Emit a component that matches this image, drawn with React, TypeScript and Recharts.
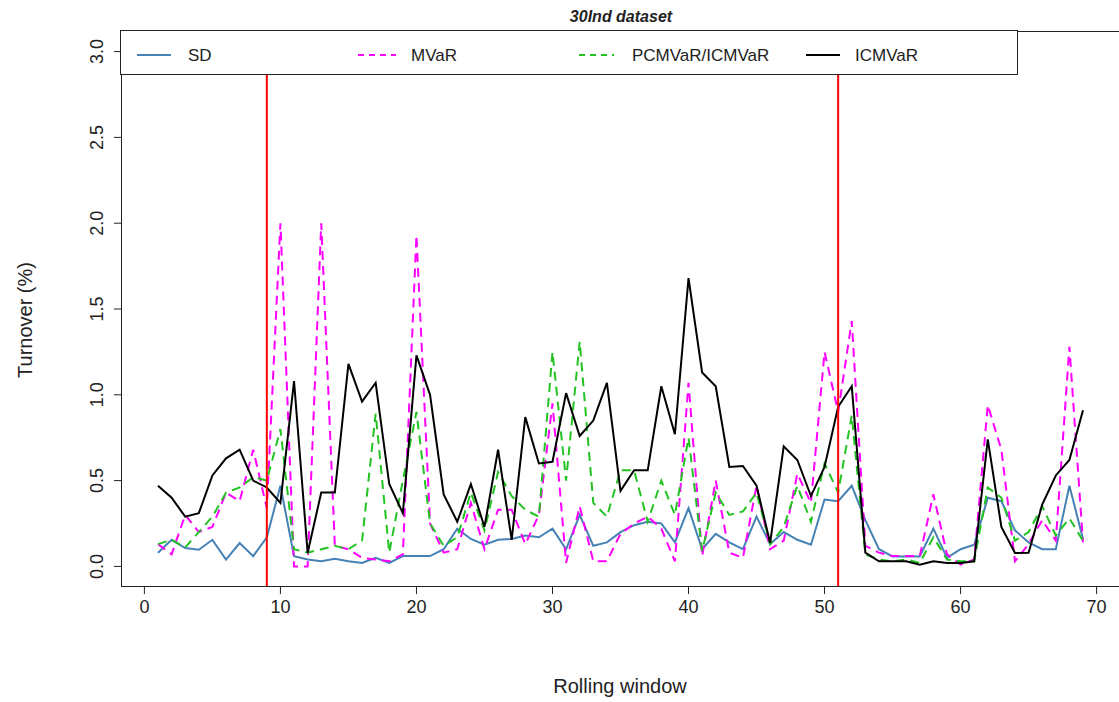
import { LineChart, Line, XAxis, YAxis, ReferenceLine } from "recharts";

// rolling window index, 1..69
const windows = [
  1, 2, 3, 4, 5, 6, 7, 8, 9, 10, 11, 12, 13, 14, 15, 16, 17, 18, 19, 20, 21, 22, 23,
  24, 25, 26, 27, 28, 29, 30, 31, 32, 33, 34, 35, 36, 37, 38, 39, 40, 41, 42, 43, 44,
  45, 46, 47, 48, 49, 50, 51, 52, 53, 54, 55, 56, 57, 58, 59, 60, 61, 62, 63, 64, 65,
  66, 67, 68, 69,
];

const sd = [
  0.08, 0.155, 0.107, 0.097, 0.155, 0.04, 0.136, 0.06, 0.17, 0.47, 0.06, 0.04, 0.03,
  0.044, 0.03, 0.02, 0.05, 0.02, 0.06, 0.06, 0.06, 0.1, 0.22, 0.16, 0.126, 0.155, 0.16,
  0.18, 0.17, 0.22, 0.1, 0.3, 0.12, 0.14, 0.2, 0.24, 0.26, 0.25, 0.14, 0.34, 0.1, 0.19,
  0.14, 0.1, 0.29, 0.13, 0.2, 0.155, 0.126, 0.39, 0.38, 0.47, 0.27, 0.1, 0.058, 0.058,
  0.058, 0.22, 0.05, 0.1, 0.126, 0.4, 0.38, 0.21, 0.14, 0.1, 0.1, 0.47, 0.16,
];

const mvar = [
  0.13, 0.07, 0.3, 0.2, 0.23, 0.43, 0.38, 0.68, 0.34, 2.0, 0.0, 0.0, 2.0, 0.12, 0.1,
  0.05, 0.04, 0.03, 0.07, 1.93, 0.25, 0.08, 0.1, 0.37, 0.1, 0.33, 0.33, 0.13, 0.3, 0.95,
  0.02, 0.35, 0.03, 0.03, 0.19, 0.25, 0.29, 0.22, 0.03, 1.07, 0.06, 0.5, 0.08, 0.05,
  0.47, 0.1, 0.15, 0.54, 0.37, 1.25, 0.9, 1.43, 0.12, 0.08, 0.06, 0.06, 0.06, 0.42,
  0.07, 0.01, 0.04, 0.94, 0.68, 0.03, 0.13, 0.27, 0.15, 1.28, 0.14,
];

const pcmvar = [
  0.13, 0.155, 0.11, 0.2, 0.29, 0.43, 0.46, 0.52, 0.5, 0.8, 0.1, 0.08, 0.1, 0.12, 0.1,
  0.15, 0.89, 0.08, 0.5, 0.9, 0.25, 0.12, 0.17, 0.43, 0.21, 0.55, 0.41, 0.33, 0.29, 1.25,
  0.5, 1.31, 0.37, 0.29, 0.56, 0.56, 0.26, 0.5, 0.3, 0.75, 0.09, 0.43, 0.3, 0.32, 0.43,
  0.13, 0.23, 0.47, 0.26, 0.6, 0.43, 0.88, 0.07, 0.04, 0.03, 0.04, 0.02, 0.17, 0.04,
  0.03, 0.03, 0.46, 0.4, 0.15, 0.2, 0.35, 0.18, 0.28, 0.15,
];

const icmvar = [
  0.47, 0.4, 0.29, 0.31, 0.53, 0.63, 0.68, 0.5, 0.46, 0.37, 1.08, 0.08, 0.43, 0.43,
  1.18, 0.96, 1.07, 0.48, 0.31, 1.23, 1.0, 0.42, 0.26, 0.48, 0.23, 0.68, 0.155, 0.87,
  0.6, 0.61, 1.01, 0.76, 0.85, 1.07, 0.44, 0.56, 0.56, 1.05, 0.77, 1.68, 1.13, 1.05,
  0.58, 0.585, 0.47, 0.137, 0.7, 0.62, 0.41, 0.58, 0.93, 1.05, 0.08, 0.03, 0.03, 0.03,
  0.01, 0.03, 0.02, 0.02, 0.03, 0.74, 0.23, 0.078, 0.08, 0.36, 0.53, 0.62, 0.91,
];

const xTicks = [0, 10, 20, 30, 40, 50, 60, 70];
const yTicks = [0, 0.5, 1, 1.5, 2, 2.5, 3];
const breakWindows = [9, 51];

const FONT = '"Liberation Sans", Arial, Helvetica, sans-serif';
const INK = "#222";

const data = windows.map((w, i) => ({
  w,
  sd: sd[i],
  mvar: mvar[i],
  pcmvar: pcmvar[i],
  icmvar: icmvar[i],
}));

const series = [
  { key: "sd", label: "SD", color: "#4682B4", dash: undefined as string | undefined },
  { key: "mvar", label: "MVaR", color: "#FF00FF", dash: "9 6" },
  { key: "pcmvar", label: "PCMVaR/ICMVaR", color: "#22C322", dash: "9 6" },
  { key: "icmvar", label: "ICMVaR", color: "#000000", dash: undefined },
];

// legend positions (line start, line end, text start)
const legendPos = [
  [137, 171, 188],
  [358, 396, 411],
  [579, 614, 632],
  [806, 840, 855],
];

function YTick({ y, payload }: any) {
  return (
    <text
      x={103}
      y={y}
      transform={`rotate(-90, 103, ${y})`}
      textAnchor="middle"
      fontSize={18}
      fontFamily={FONT}
      fill={INK}
    >
      {Number(payload.value).toFixed(1)}
    </text>
  );
}

export default function App() {
  return (
    <div
      style={{
        position: "absolute",
        left: 0,
        top: 0,
        width: 1119,
        height: 702,
        overflow: "hidden",
        background: "#fff",
      }}
    >
      <LineChart width={1120} height={702} data={data} margin={{ top: 31, right: 0, left: 0, bottom: 0 }}>
        <XAxis
          type="number"
          dataKey="w"
          domain={[-1.72, 71.72]}
          ticks={xTicks}
          allowDataOverflow
          axisLine={false}
          tickLine={{ stroke: INK }}
          tickSize={7}
          tickMargin={6}
          height={115}
          tick={{ fontSize: 18, fill: INK, fontFamily: FONT }}
        />
        <YAxis
          type="number"
          domain={[-0.12, 3.12]}
          ticks={yTicks}
          allowDataOverflow
          axisLine={false}
          tickLine={{ stroke: INK }}
          tickSize={7}
          width={121}
          tick={<YTick />}
        />
        {series.map((s) => (
          <Line
            key={s.key}
            type="linear"
            dataKey={s.key}
            stroke={s.color}
            strokeWidth={2}
            strokeDasharray={s.dash}
            dot={false}
            isAnimationActive={false}
          />
        ))}
        {breakWindows.map((b) => (
          <ReferenceLine key={b} x={b} stroke="#FF0000" strokeWidth={2} />
        ))}
      </LineChart>

      <svg
        width={1119}
        height={702}
        style={{ position: "absolute", left: 0, top: 0, pointerEvents: "none" }}
      >
        {/* plot frame */}
        <rect x={121.5} y={31.5} width={1010} height={555} fill="none" stroke={INK} strokeWidth={1} />
        <text
          x={621}
          y={22}
          textAnchor="middle"
          fontSize={16}
          fontWeight="bold"
          fontStyle="italic"
          fontFamily={FONT}
          fill={INK}
        >
          30Ind dataset
        </text>
        {/* legend */}
        <rect x={120.5} y={30.5} width={897} height={44} fill="#fff" stroke={INK} strokeWidth={1} />
        {series.map((s, i) => (
          <g key={s.key}>
            <line
              x1={legendPos[i][0]}
              x2={legendPos[i][1]}
              y1={55}
              y2={55}
              stroke={s.color}
              strokeWidth={2}
              strokeDasharray={s.dash ? "6 5" : undefined}
            />
            <text x={legendPos[i][2]} y={61} fontSize={17} fontFamily={FONT} fill={INK}>
              {s.label}
            </text>
          </g>
        ))}
        <text x={620} y={693} textAnchor="middle" fontSize={20} fontFamily={FONT} fill={INK}>
          Rolling window
        </text>
        <text
          x={32}
          y={320}
          transform="rotate(-90, 32, 320)"
          textAnchor="middle"
          fontSize={20}
          fontFamily={FONT}
          fill={INK}
        >
          Turnover (%)
        </text>
      </svg>
    </div>
  );
}
